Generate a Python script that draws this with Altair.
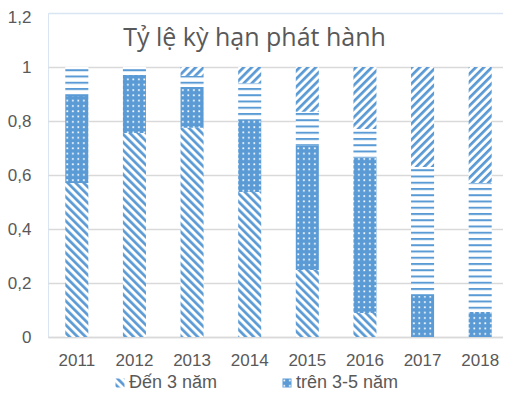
import altair as alt
import pandas as pd
import jinja2

# ---- data ----
years = ["2011", "2012", "2013", "2014", "2015", "2016", "2017", "2018"]
series = ["Đến 3 năm", "trên 3-5 năm", "trên 5-10 năm", "trên 10 năm"]
den_3 = [0.570, 0.756, 0.775, 0.537, 0.248, 0.089, 0.0, 0.0]
tren_3_5 = [0.323, 0.214, 0.151, 0.267, 0.460, 0.576, 0.152, 0.093]
tren_5_10 = [0.107, 0.030, 0.041, 0.136, 0.126, 0.105, 0.478, 0.477]
tren_10 = [0.000, 0.000, 0.033, 0.060, 0.166, 0.230, 0.370, 0.430]
y_ticks = [0, 0.2, 0.4, 0.6, 0.8, 1, 1.2]
title_text = "Tỷ lệ kỳ hạn phát hành"

values = [den_3, tren_3_5, tren_5_10, tren_10]
rows = []
for si, (name, vals) in enumerate(zip(series, values)):
    for yr, v in zip(years, vals):
        rows.append({"year": yr, "series": name, "value": v, "order": si})
df = pd.DataFrame(rows)

fills = ["url(#pBack)", "url(#pDots)", "url(#pHoriz)", "url(#pFwd)"]

bars = alt.Chart(df).mark_bar().encode(
    x=alt.X("year:N", sort=years,
            scale=alt.Scale(paddingInner=0.6, paddingOuter=0.3),
            axis=alt.Axis(title=None, labelAngle=0, ticks=False, tickSize=0,
                          labelPadding=15, domainColor="#d9d9d9", domainWidth=1.5)),
    y=alt.Y("value:Q", stack="zero",
            scale=alt.Scale(domain=[0, 1.2], nice=False),
            axis=alt.Axis(title=None, values=y_ticks, ticks=False, tickSize=0,
                          domain=False, labelPadding=17,
                          labelExpr="replace(format(datum.value, '~g'), '.', ',')",
                          labelOffset={"condition": {"test": "datum.value > 1.1", "value": 4},
                                       "value": 0},
                          gridColor={"condition": {"test": "datum.value > 1.1", "value": "#dae5f3"},
                                     "value": "#d9d9d9"},
                          gridWidth=1.5)),
    fill=alt.Fill("series:N",
                  scale=alt.Scale(domain=series, range=fills),
                  legend=alt.Legend(values=series[:2], title=None, orient="none",
                                    direction="horizontal", legendX=63, legendY=361,
                                    symbolType="square", symbolSize=81,
                                    symbolStrokeWidth=0, labelOffset=0,
                                    columnPadding=60, padding=0)),
    order=alt.Order("order:Q", sort="ascending"),
)

chart = bars.properties(
    width=461,
    height=324,
    autosize=alt.AutoSizeParams(type="none"),
    padding={"left": 40, "top": 5, "right": 2, "bottom": 65},
    title=alt.TitleParams(text=title_text, font="Open Sans", fontSize=25,
                          fontWeight="normal", color="#595959", anchor="middle",
                          frame="group", offset=-33, baseline="alphabetic",
                          dx=-24, dy=30),
).configure(
    background="white",
).configure_view(
    stroke="#dae5f3", strokeWidth=1,
).configure_axis(
    labelFont="Liberation Sans", labelFontSize=17, labelColor="#595959",
).configure_legend(
    labelFont="Liberation Sans", labelFontSize=18, labelColor="#595959",
)

TEMPLATE = jinja2.Template("""<!DOCTYPE html>
<html>
<head>
<meta charset="utf-8">
<script type="text/javascript" src="{{ base_url }}/vega@{{ vega_version }}"></script>
<script type="text/javascript" src="{{ base_url }}/vega-lite@{{ vegalite_version }}"></script>
<script type="text/javascript" src="{{ base_url }}/vega-embed@{{ vegaembed_version }}"></script>
</head>
<body>
<svg width="0" height="0" style="position:absolute">
  <defs>
    <pattern id="pBack" patternUnits="userSpaceOnUse" width="5.66" height="5.66" patternTransform="rotate(-45)">
      <rect width="5.66" height="5.66" fill="#ffffff"/>
      <rect x="0" y="0" width="2.7" height="5.66" fill="#5B9BD5"/>
    </pattern>
    <pattern id="pFwd" patternUnits="userSpaceOnUse" width="5.66" height="5.66" patternTransform="rotate(45)">
      <rect width="5.66" height="5.66" fill="#ffffff"/>
      <rect x="0" y="0" width="2.7" height="5.66" fill="#5B9BD5"/>
    </pattern>
    <pattern id="pDots" patternUnits="userSpaceOnUse" width="5.5" height="5.3">
      <rect width="5.5" height="5.3" fill="#5B9BD5"/>
      <rect x="2" y="2" width="1.7" height="1.7" fill="#ffffff"/>
    </pattern>
    <pattern id="pHoriz" patternUnits="userSpaceOnUse" width="8" height="6.25">
      <rect width="8" height="6.25" fill="#ffffff"/>
      <rect x="0" y="0" width="8" height="2" fill="#5B9BD5"/>
    </pattern>
  </defs>
</svg>
<div id="{{ output_div }}"></div>
<script>
  (function(vegaEmbed) {
    var spec = {{ spec }};
    var embedOpt = {{ embed_options }};
    var el = document.getElementById("{{ output_div }}");
    vegaEmbed("#{{ output_div }}", spec, embedOpt).catch(function(error) {
      el.innerHTML = '<pre>' + error + '</pre>';
    });
  })(vegaEmbed);
</script>
</body>
</html>
""")

chart.save("out.html", embed_options={"renderer": "svg", "actions": False}, template=TEMPLATE)
